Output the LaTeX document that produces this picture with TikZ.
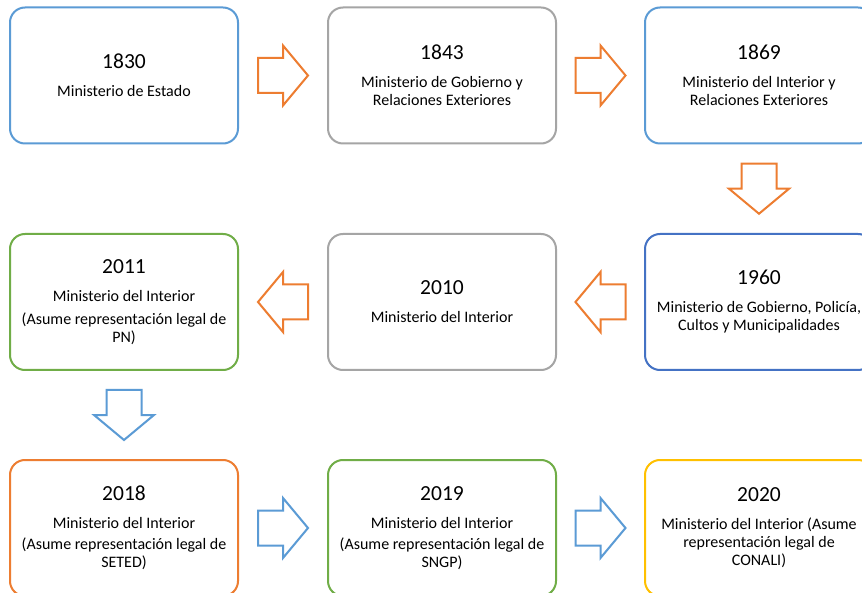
\documentclass[tikz,border=0pt]{standalone}
\usepackage{fontspec}
\setmainfont{Carlito}
\usetikzlibrary{calc}
\definecolor{cblue}{HTML}{5B9BD5}
\definecolor{cdblue}{HTML}{4472C4}
\definecolor{cgray}{HTML}{A5A5A5}
\definecolor{cgreen}{HTML}{70AD47}
\definecolor{corange}{HTML}{ED7D31}
\definecolor{cgold}{HTML}{FFC000}
\newcommand{\yr}[1]{{\fontsize{21.5}{24}\selectfont #1}\\[10pt]}
\begin{document}
\begin{tikzpicture}[x=1pt,y=-1pt,
  box/.style={draw=#1, line width=2pt, rounded corners=15pt, minimum width=228pt,
    minimum height=136pt, align=center, font=\fontsize{16}{18}\selectfont,
    text=black, inner sep=0pt},
  blockarrow/.pic={\draw[pic actions] (-25,-17.5) -- (0,-17.5) -- (0,-30) -- (25,0)
    -- (0,30) -- (0,17.5) -- (-25,17.5) -- cycle;},
  arr/.style={draw=#1, line width=2pt, line join=miter}]
\path[use as bounding box] (0,0) rectangle (862,593);
\clip (0,0) rectangle (862,593);
\fill[white] (0,0) rectangle (862,593);

\node[box=cblue] (n1830) at (124,75.5) {\yr{1830}Ministerio de Estado};
\node[box=cgray] (n1843) at (442,75.5) {\yr{1843}Ministerio de Gobierno y\\Relaciones Exteriores};
\node[box=cblue] (n1869) at (759,75.5) {\yr{1869}Ministerio del Interior y\\Relaciones Exteriores};
\node[box=cdblue] (n1960) at (759,302) {\yr{1960}Ministerio de Gobierno, Policía,\\Cultos y Municipalidades};
\node[box=cgray] (n2010) at (442,302) {\yr{2010}Ministerio del Interior};
\node[box=cgreen] (n2011) at (124,302) {\yr{2011}Ministerio del Interior\\[5pt](Asume representación legal de\\PN)};
\node[box=corange] (n2018) at (124,528) {\yr{2018}Ministerio del Interior\\[3pt](Asume representación legal de\\SETED)};
\node[box=cgreen] (n2019) at (442,528) {\yr{2019}Ministerio del Interior\\[3pt](Asume representación legal de\\SNGP)};
\node[box=cgold] (n2020) at (759,528) {\yr{2020}Ministerio del Interior (Asume\\representación legal de\\CONALI)};

\pic[arr=corange] at ($(n1830.east)!0.5!(n1843.west)$) {blockarrow};
\pic[arr=corange] at ($(n1843.east)!0.5!(n1869.west)$) {blockarrow};
\pic[arr=corange, rotate=-90] at ($(n1869.south)!0.5!(n1960.north)$) {blockarrow};
\pic[arr=corange, rotate=180] at ($(n1960.west)!0.5!(n2010.east)$) {blockarrow};
\pic[arr=corange, rotate=180] at ($(n2010.west)!0.5!(n2011.east)$) {blockarrow};
\pic[arr=cblue, rotate=-90] at ($(n2011.south)!0.5!(n2018.north)$) {blockarrow};
\pic[arr=cblue] at ($(n2018.east)!0.5!(n2019.west)$) {blockarrow};
\pic[arr=cblue] at ($(n2019.east)!0.5!(n2020.west)$) {blockarrow};
\end{tikzpicture}
\end{document}
